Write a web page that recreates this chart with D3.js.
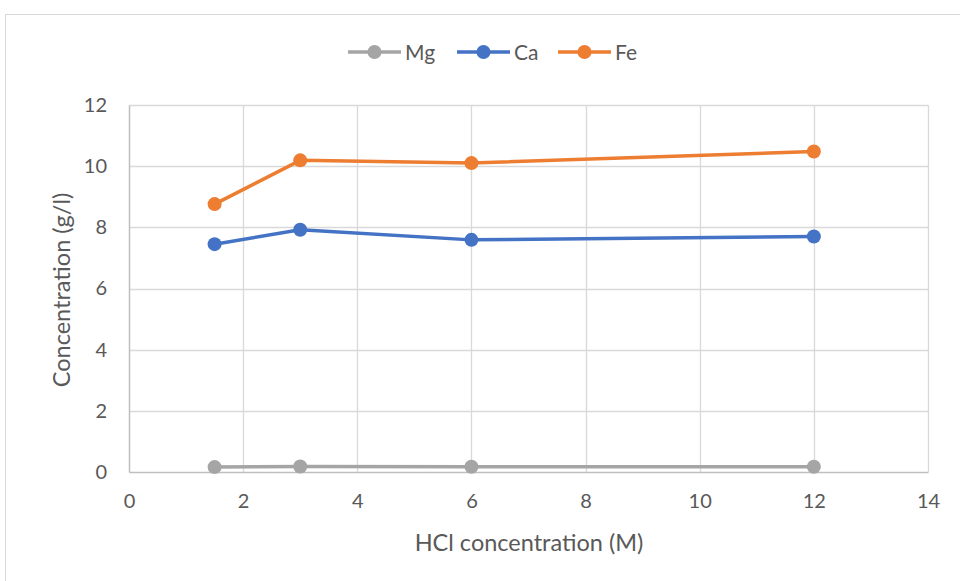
<!DOCTYPE html>
<html><head><meta charset="utf-8">
<script src="https://cdn.jsdelivr.net/npm/d3@7"></script>
<style>body{margin:0;background:#fff}svg{display:block}text{font-family:Lato,"Open Sans",sans-serif;fill:#595959}</style>
</head><body><svg id="c" width="960" height="581"></svg>
<script>
const xValues = [1.5, 3, 6, 12];
const mg = [0.16, 0.18, 0.17, 0.17];
const ca = [7.45, 7.92, 7.59, 7.70];
const fe = [8.76, 10.19, 10.10, 10.48];
const seriesNames = ["Mg", "Ca", "Fe"];
const seriesColors = ["#a5a5a5", "#4472c4", "#ed7d31"];
const xTicks = [0, 2, 4, 6, 8, 10, 12, 14];
const yTicks = [0, 2, 4, 6, 8, 10, 12];
const xTitle = "HCl concentration (M)";
const yTitle = "Concentration (g/l)";

const series = [mg, ca, fe].map((v, i) => ({name: seriesNames[i], color: seriesColors[i], values: v}));
const svg = d3.select("#c");
const m = {l: 129, r: 928, t: 105, b: 472};
const x = d3.scaleLinear().domain([0, 14]).range([m.l, m.r]);
const y = d3.scaleLinear().domain([0, 12]).range([m.b, m.t]);

svg.append("rect").attr("x", 5.5).attr("y", 14.5).attr("width", 1000).attr("height", 1000)
  .attr("fill", "none").attr("stroke", "#d9d9d9");

// gridlines
svg.append("g").selectAll("line").data(yTicks.filter(d => d > 0)).join("line")
  .attr("x1", m.l).attr("x2", m.r).attr("y1", d => Math.round(y(d)) + 0.5).attr("y2", d => Math.round(y(d)) + 0.5)
  .attr("stroke", "#d9d9d9").attr("stroke-width", 1.3);
svg.append("g").selectAll("line").data(xTicks.filter(d => d > 0)).join("line")
  .attr("y1", m.t).attr("y2", m.b).attr("x1", d => Math.round(x(d)) + 0.5).attr("x2", d => Math.round(x(d)) + 0.5)
  .attr("stroke", "#d9d9d9").attr("stroke-width", 1.3);

// axes
const xa = svg.append("g").attr("transform", `translate(0,${m.b})`)
  .call(d3.axisBottom(x).tickValues(xTicks).tickSize(0).tickPadding(22));
xa.select(".domain").attr("stroke", "#bfbfbf").attr("stroke-width", 1.5);
xa.selectAll("text").attr("font-size", 20).attr("fill", "#595959").style("font-family", "Lato,sans-serif");
const ya = svg.append("g").attr("transform", `translate(${m.l},0)`)
  .call(d3.axisLeft(y).tickValues(yTicks).tickSize(0).tickPadding(22));
ya.select(".domain").attr("stroke", "#bfbfbf").attr("stroke-width", 1.5);
ya.selectAll("text").attr("font-size", 20).attr("fill", "#595959").style("font-family", "Lato,sans-serif");

// titles
svg.append("text").attr("x", 529).attr("y", 551).attr("text-anchor", "middle")
  .attr("font-size", 23.5).text(xTitle);
svg.append("text").attr("transform", "translate(70,290) rotate(-90)").attr("text-anchor", "middle")
  .attr("font-size", 23.5).text(yTitle);

// lines
const line = d3.line().x((d, i) => x(xValues[i])).y(d => y(d));
series.forEach(s => {
  svg.append("path").datum(s.values).attr("d", line).attr("fill", "none")
    .attr("stroke", s.color).attr("stroke-width", 3.5).attr("stroke-linejoin", "round");
  svg.append("g").selectAll("circle").data(s.values).join("circle")
    .attr("cx", (d, i) => x(xValues[i])).attr("cy", d => y(d)).attr("r", 7).attr("fill", s.color);
});

// legend
const legX = [348, 457, 558];
const lg = svg.append("g");
series.forEach((s, i) => {
  const g = lg.append("g").attr("transform", `translate(${legX[i]},52)`);
  g.append("line").attr("x1", 0).attr("x2", 53).attr("stroke", s.color).attr("stroke-width", 3.5);
  g.append("circle").attr("cx", 26.5).attr("r", 7).attr("fill", s.color);
  g.append("text").attr("x", 57).attr("y", 7.5).attr("font-size", 21).text(s.name);
});
</script></body></html>
